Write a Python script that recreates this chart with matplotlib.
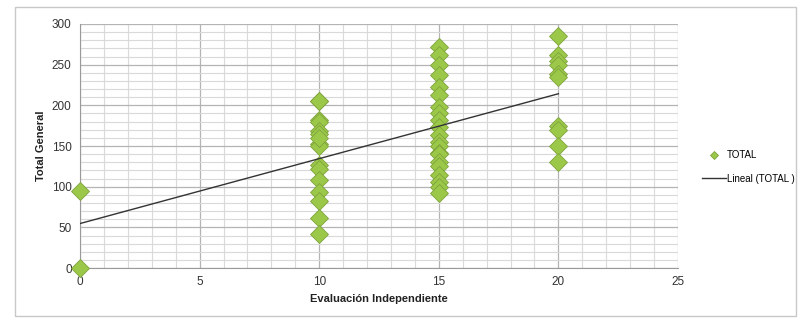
import numpy as np
import matplotlib
matplotlib.use("Agg")
import matplotlib.pyplot as plt
from matplotlib.patches import Rectangle
from matplotlib.ticker import MultipleLocator

# data (columns overlap, so some points sit on top of others)
x_0 = [0, 0]
y_0 = [0, 95]
x_10 = [10] * 16
y_10 = [205, 182, 180, 168, 165, 152, 150, 127, 122, 160, 108, 93, 82, 62, 42, 205]
x_15 = [15] * 21
y_15 = [272, 262, 250, 237, 223, 213, 198, 190, 182, 174, 164, 155, 150, 141, 140,
        130, 125, 115, 106, 100, 92]
x_20 = [20] * 10
y_20 = [285, 262, 255, 250, 238, 235, 175, 170, 150, 130]

xs = np.array(x_0 + x_10 + x_15 + x_20, dtype=float)
ys = np.array(y_0 + y_10 + y_15 + y_20, dtype=float)

plt.rcParams["font.family"] = ["Liberation Sans", "DejaVu Sans"]

fig = plt.figure(figsize=(8, 3.23), dpi=100)
ax = fig.add_axes([0.1, 0.17, 0.7475, 0.7557])

# outer chart border
fig.patches.append(Rectangle((15 / 800, 7 / 323), 781 / 800, 309 / 323,
                             transform=fig.transFigure, fill=False,
                             edgecolor="#c8c8c8", linewidth=1))

ax.set_xlim(0, 25)
ax.set_ylim(0, 300)
ax.xaxis.set_major_locator(MultipleLocator(5))
ax.xaxis.set_minor_locator(MultipleLocator(1))
ax.yaxis.set_major_locator(MultipleLocator(50))
ax.yaxis.set_minor_locator(MultipleLocator(10))
ax.grid(which="major", color="#b4b4b4", linewidth=0.9)
ax.grid(which="minor", color="#d9d9d9", linewidth=0.8)
ax.set_axisbelow(True)
for s in ["top", "right"]:
    ax.spines[s].set_visible(False)
for s in ["left", "bottom"]:
    ax.spines[s].set_color("#9a9a9a")
ax.tick_params(which="both", length=0, labelsize=8.5, colors="#333333", pad=6)

ax.plot(xs, ys, linestyle="none", marker="D", markersize=9,
        markerfacecolor="#9cc84a", markeredgecolor="#7ea33a",
        markeredgewidth=0.6, label="TOTAL", clip_on=False, zorder=3)

m, b = np.polyfit(xs, ys, 1)
xl = np.array([xs.min(), xs.max()])
ax.plot(xl, m * xl + b, color="#333333", linewidth=1, label="Lineal (TOTAL )", zorder=4)

ax.set_xlabel("Evaluación Independiente", fontsize=8, fontweight="bold", color="#222222")
ax.set_ylabel("Total General", fontsize=8, fontweight="bold", color="#222222")

ax.legend(loc="center left", bbox_to_anchor=(0.878, 0.483), bbox_transform=fig.transFigure,
          frameon=False, fontsize=7, markerscale=0.45, handlelength=2.4,
          labelspacing=1.4, handletextpad=0.1, borderaxespad=0, borderpad=0)

fig.savefig("out.png", dpi=100)
